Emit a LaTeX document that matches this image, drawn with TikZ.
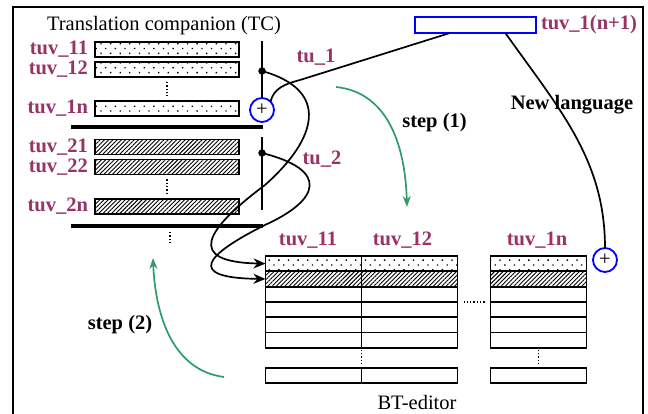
\documentclass[tikz,border=0pt]{standalone}
\usepackage{fontspec}
\setmainfont{Liberation Serif}
\usetikzlibrary{arrows.meta, positioning, patterns.meta}
\definecolor{plum}{HTML}{993366}
\definecolor{stepgreen}{HTML}{2E9B68}
\definecolor{addblue}{HTML}{0000FF}

\begin{document}
\begin{tikzpicture}[
  x=1pt, y={(0pt,-1pt)},
  every node/.style={font=\fontsize{20.5}{24}\selectfont, inner sep=0pt, outer sep=0pt},
  frame/.style={line width=1.8pt},
  cell/.style={draw, line width=1.8pt, minimum width=96pt, minimum height=15.3pt},
  tcbox/.style={cell, minimum width=144pt, minimum height=15pt},
  dotfill/.style={pattern={Dots[distance=6.8pt, radius=0.95pt, angle=45]}},
  hatchfill/.style={pattern={Lines[angle=45, distance=3pt, line width=0.9pt]}},
  tuv/.style={font=\fontsize{20.5}{24}\selectfont\bfseries, text=plum},
  note/.style={font=\fontsize{20.5}{24}\selectfont\bfseries},
  newbox/.style={draw=addblue, line width=1.8pt, minimum width=121pt, minimum height=16pt},
  plus/.style={draw=addblue, circle, line width=1.8pt, minimum size=24pt},
  joint/.style={fill, circle, minimum size=7.5pt},
  sepline/.style={line width=3.8pt},
  dots/.style={dotted, line width=1.3pt},
  link/.style={line width=1.7pt},
  linkto/.style={link, -{Stealth[length=12pt, width=10pt]}},
  flow/.style={stepgreen, line width=1.7pt, -{Stealth[length=11pt, width=8pt]}},
]

  \useasboundingbox (0,0) rectangle (648,414);
  \draw[frame] (13,414) -- (13,7) -- (643,7) -- (643,414);

  % translation companion
  \node (tc) at (164,26) {Translation companion (TC)};

  \node[tcbox, dotfill] (t11) at (167,49.5) {};
  \node[tcbox, dotfill] (t12) at (167,69.5) {};
  \node[tcbox, dotfill] (t1n) at (167,108.5) {};
  \node[tcbox, hatchfill] (t21) at (167,147) {};
  \node[tcbox, hatchfill] (t22) at (167,167) {};
  \node[tcbox, hatchfill] (t2n) at (167,206.5) {};

  \node[tuv, left=7pt of t11] (l11) {tuv\_11};
  \node[tuv, left=7pt of t12] (l12) {tuv\_12};
  \node[tuv, left=7pt of t1n] (l1n) {tuv\_1n};
  \node[tuv, left=7pt of t21] (l21) {tuv\_21};
  \node[tuv, left=7pt of t22] (l22) {tuv\_22};
  \node[tuv, left=7pt of t2n] (l2n) {tuv\_2n};

  \draw[dots, shorten <=5pt, shorten >=4pt] (t12.south) -- (t1n.north);
  \draw[dots, shorten <=5pt, shorten >=6pt] (t22.south) -- (t2n.north);
  \draw[dots] (170,232) -- (170,245);

  \draw[sepline] (71,127) -- (263,127);
  \draw[sepline] (71,226) -- (263,226);

  \coordinate (v1top) at (262,41);
  \coordinate (v2top) at (262,137);
  \coordinate (v2bot) at (262,210);
  \node[plus] (plus1) at (262,110) {+};
  \node[joint] (d1) at (262,71) {};
  \node[joint] (d2) at (262,153) {};
  \draw[link] (v1top) -- (plus1.north);
  \draw[link] (v2top) -- (v2bot);

  \node[tuv] (tu1) at (316,57) {tu\_1};
  \node[tuv] (tu2) at (322,159) {tu\_2};

  % new language
  \node[newbox] (t1new) at (475.5,25) {};
  \node[tuv, right=5pt of t1new] (l1new) {tuv\_1(n+1)};
  \node[note] (newlang) at (572,105) {New language};

  % BT-editor
  \foreach \col/\cx in {1/313.5, 2/409.5, n/538.5} {
    \node[cell, dotfill] (c\col-1) at (\cx,263.65) {};
    \node[cell, hatchfill] (c\col-2) at (\cx,278.95) {};
    \foreach \r/\cy in {3/294.25, 4/309.55, 5/324.85, 6/340.15}
      \node[cell] (c\col-\r) at (\cx,\cy) {};
    \node[cell, minimum height=15pt] (c\col-last) at (\cx,375.5) {};
  }

  \node[tuv] (h11) at (308,240) {tuv\_11};
  \node[tuv] (h12) at (402.5,240) {tuv\_12};
  \node[tuv] (h1n) at (537,240) {tuv\_1n};
  \node (bt) at (417,402) {BT-editor};

  \draw[dots, shorten <=2pt, shorten >=3pt] (c1-6.south east) -- (c1-last.north east);
  \draw[dots, shorten <=2pt, shorten >=3pt] (cn-6.south) -- (cn-last.north);
  \draw[dots, shorten <=6pt, shorten >=5pt] (c2-3.south east) -- (cn-3.south west);

  \node[plus] (plus2) at (605,260) {+};

  % links
  \draw[linkto] (d1.center) .. controls (330,90) and (318,138) .. (265,185)
    .. controls (205,230) and (185,262) .. (c1-1.west);
  \draw[linkto] (d2.center) .. controls (330,170) and (320,200) .. (265,225)
    .. controls (205,255) and (185,278) .. (c1-2.west);
  \draw[link] (plus1.north east) .. controls (274,88) and (285,84) .. (300,80) -- (t1new);
  \draw[link] (t1new.-15) .. controls (560,110) and (605,160) .. (plus2.north);

  % steps
  \coordinate (s1a) at (336,87);
  \coordinate (s1b) at (407,207);
  \coordinate (s2a) at (224,377);
  \coordinate (s2b) at (153,258);
  \draw[flow] (s1a) .. controls (385,92) and (405,140) .. (s1b);
  \draw[flow] (s2a) .. controls (170,370) and (155,310) .. (s2b);
  \node[note] (step1) at (434.5,123) {step (1)};
  \node[note] (step2) at (120,325) {step (2)};

\end{tikzpicture}
\end{document}
